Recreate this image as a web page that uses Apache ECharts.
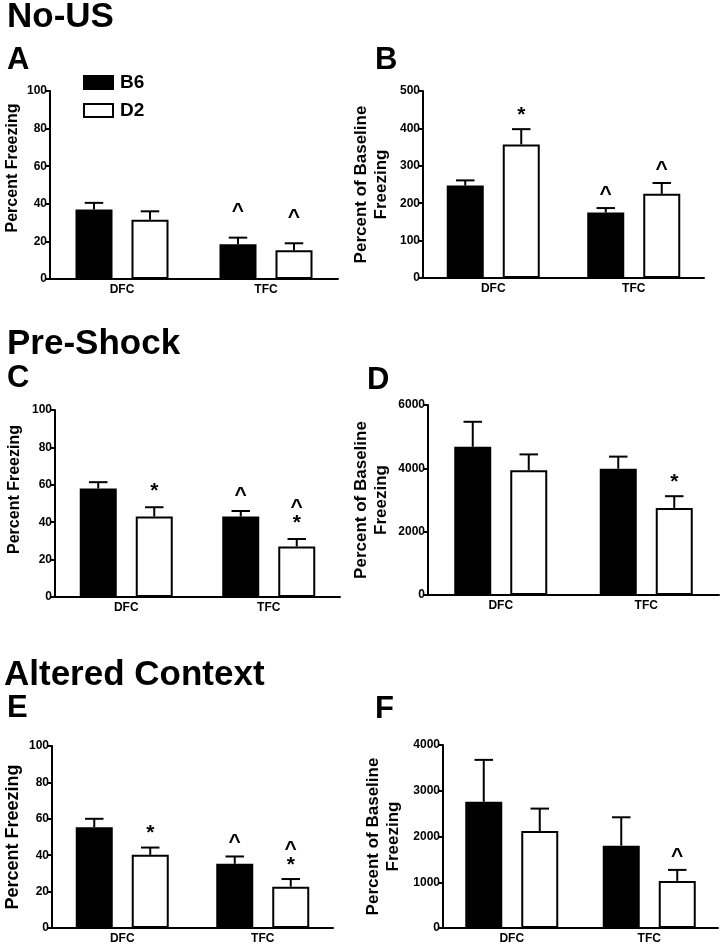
<!DOCTYPE html>
<html><head><meta charset="utf-8">
<script src="https://cdn.jsdelivr.net/npm/echarts@6/dist/echarts.min.js"></script>
<style>html,body{margin:0;padding:0;background:#fff}#c{width:722px;height:951px}</style>
</head><body><div id="c"></div>
<script>
const categories = ['DFC', 'TFC'];
const seriesNames = ['B6', 'D2'];

// Panel A (No-US, Percent Freezing)
const A_B6 = [37, 18.5];      const A_B6_sem = [3.5, 3.5];   const A_B6_sig = ['', '^'];
const A_D2 = [31.5, 15.3];    const A_D2_sem = [4.5, 3.7];   const A_D2_sig = ['', '^'];
// Panel B (No-US, Percent of Baseline)
const B_B6 = [247, 175];      const B_B6_sem = [14, 12];     const B_B6_sig = ['', '^'];
const B_D2 = [357, 225];      const B_D2_sem = [41, 29];     const B_D2_sig = ['*', '^'];
// Panel C (Pre-Shock, Percent Freezing)
const C_B6 = [58, 43];        const C_B6_sem = [3.4, 3];     const C_B6_sig = ['', '^'];
const C_D2 = [43, 27];        const C_D2_sem = [5, 4];       const C_D2_sig = ['*', '^\n*'];
// Panel D (Pre-Shock, Percent of Baseline)
const D_B6 = [4680, 3990];    const D_B6_sem = [790, 380];   const D_B6_sig = ['', ''];
const D_D2 = [3940, 2750];    const D_D2_sem = [500, 370];   const D_D2_sig = ['', '*'];
// Panel E (Altered Context, Percent Freezing)
const E_B6 = [55.4, 35.3];    const E_B6_sem = [4.6, 4];     const E_B6_sig = ['', '^'];
const E_D2 = [40.2, 22.7];    const E_D2_sem = [4, 4.2];     const E_D2_sig = ['*', '^\n*'];
// Panel F (Altered Context, Percent of Baseline)
const F_B6 = [2760, 1800];    const F_B6_sem = [915, 620];   const F_B6_sig = ['', ''];
const F_D2 = [2120, 1030];    const F_D2_sem = [490, 240];   const F_D2_sig = ['', '^'];

// y-axis tick settings
const yMaxPct = 100, yIntPct = 20;
const yMaxB = 500, yIntB = 100;
const yMaxD = 6000, yIntD = 2000;
const yMaxF = 4000, yIntF = 1000;

const FONT = '"Liberation Sans", Arial, sans-serif';
const BAR_W = 37;
const GAP = 19;
const OFFSET = (BAR_W + GAP) / 2;

const panels = [
  {b6: A_B6, b6s: A_B6_sem, b6g: A_B6_sig, d2: A_D2, d2s: A_D2_sem, d2g: A_D2_sig, max: yMaxPct, int: yIntPct,
   name: 'Percent Freezing', grid: {left: 50, top: 91, width: 288, height: 188}, nameGap: 26, shift: 34, lift: 12, nameSize: 16},
  {b6: B_B6, b6s: B_B6_sem, b6g: B_B6_sig, d2: B_D2, d2s: B_D2_sem, d2g: B_D2_sig, max: yMaxB, int: yIntB,
   name: 'Percent of Baseline\nFreezing', grid: {left: 423, top: 91, width: 281, height: 187}, nameGap: 32, shift: 0, lift: 0, nameSize: 17},
  {b6: C_B6, b6s: C_B6_sem, b6g: C_B6_sig, d2: C_D2, d2s: C_D2_sem, d2g: C_D2_sig, max: yMaxPct, int: yIntPct,
   name: 'Percent Freezing', grid: {left: 55, top: 410, width: 285, height: 187}, nameGap: 30, shift: 28, lift: 2, nameSize: 16},
  {b6: D_B6, b6s: D_B6_sem, b6g: D_B6_sig, d2: D_D2, d2s: D_D2_sem, d2g: D_D2_sig, max: yMaxD, int: yIntD,
   name: 'Percent of Baseline\nFreezing', grid: {left: 428, top: 405, width: 291, height: 190}, nameGap: 37, shift: 0, lift: 0, nameSize: 17},
  {b6: E_B6, b6s: E_B6_sem, b6g: E_B6_sig, d2: E_D2, d2s: E_D2_sem, d2g: E_D2_sig, max: yMaxPct, int: yIntPct,
   name: 'Percent Freezing', grid: {left: 52, top: 746, width: 281, height: 182}, nameGap: 29, shift: 0, lift: 0, nameSize: 18},
  {b6: F_B6, b6s: F_B6_sem, b6g: F_B6_sig, d2: F_D2, d2s: F_D2_sem, d2g: F_D2_sig, max: yMaxF, int: yIntF,
   name: 'Percent of Baseline\nFreezing', grid: {left: 443, top: 745, width: 275, height: 183}, nameGap: 40, shift: 0, lift: 0, nameSize: 17}
];

function errRender(sign, marks, lift) {
  return function (params, api) {
    const i = api.value(0), v = api.value(1), e = api.value(2);
    const base = api.coord([i, v]);
    const top = api.coord([i, v + e]);
    const x = base[0] + sign * OFFSET;
    const cap = BAR_W / 4;
    const children = [
      {type: 'line', shape: {x1: x, y1: base[1], x2: x, y2: top[1]}, style: {stroke: '#000', lineWidth: 2}},
      {type: 'line', shape: {x1: x - cap, y1: top[1], x2: x + cap, y2: top[1]}, style: {stroke: '#000', lineWidth: 2}}
    ];
    const m = marks[params.dataIndex];
    if (m) {
      children.push({type: 'text', x: x, y: top[1] - 6 - lift,
        style: {text: m, align: 'center', verticalAlign: 'bottom', font: 'bold 21px ' + FONT, fill: '#000', lineHeight: 16}});
    }
    return {type: 'group', children: children};
  };
}

const grids = [], xAxes = [], yAxes = [], series = [];
panels.forEach((p, k) => {
  grids.push(Object.assign({containLabel: false, outerBoundsMode: 'none'}, p.grid));
  xAxes.push({
    type: 'category', gridIndex: k, data: categories,
    axisLine: {lineStyle: {color: '#000', width: 2}},
    axisTick: {alignWithLabel: true, length: 4, lineStyle: {color: '#000', width: 2}},
    axisLabel: {color: '#000', fontFamily: FONT, fontWeight: 'bold', fontSize: 12, margin: 5}
  });
  yAxes.push({
    type: 'value', gridIndex: k, min: 0, max: p.max, interval: p.int,
    name: p.name, nameLocation: 'middle', nameGap: p.nameGap, nameRotate: 90,
    nameTextStyle: {color: '#000', fontFamily: FONT, fontWeight: 'bold', fontSize: p.nameSize, lineHeight: 20,
                    padding: [0, 0, 0, p.shift]},
    axisLine: {show: true, lineStyle: {color: '#000', width: 2}},
    axisTick: {show: true, length: 4, lineStyle: {color: '#000', width: 2}},
    splitLine: {show: false},
    axisLabel: {color: '#000', fontFamily: FONT, fontWeight: 'bold', fontSize: 12, margin: 3,
                formatter: v => String(v)}
  });
  series.push({
    name: 'B6', type: 'bar', xAxisIndex: k, yAxisIndex: k, data: p.b6,
    barWidth: BAR_W, barGap: (GAP / BAR_W * 100) + '%',
    itemStyle: {color: '#000', borderColor: '#000', borderWidth: 2}
  });
  series.push({
    name: 'D2', type: 'bar', xAxisIndex: k, yAxisIndex: k, data: p.d2,
    barWidth: BAR_W, barGap: (GAP / BAR_W * 100) + '%',
    itemStyle: {color: '#fff', borderColor: '#000', borderWidth: 2}
  });
  series.push({
    name: 'errB6', type: 'custom', xAxisIndex: k, yAxisIndex: k, z: 5,
    data: p.b6.map((v, i) => [i, v, p.b6s[i]]),
    renderItem: errRender(-1, p.b6g, p.lift)
  });
  series.push({
    name: 'errD2', type: 'custom', xAxisIndex: k, yAxisIndex: k, z: 5,
    data: p.d2.map((v, i) => [i, v, p.d2s[i]]),
    renderItem: errRender(1, p.d2g, p.lift)
  });
});

function label(text, x, y, size) {
  return {type: 'text', x: x, y: y, style: {text: text, font: 'bold ' + size + 'px ' + FONT, fill: '#000', verticalAlign: 'middle', align: 'left'}};
}

const chart = echarts.init(document.getElementById('c'), null, {renderer: 'canvas'});
chart.setOption({
  animation: false,
  backgroundColor: '#fff',
  grid: grids, xAxis: xAxes, yAxis: yAxes, series: series,
  legend: {
    data: [{name: seriesNames[0], icon: 'rect'}, {name: seriesNames[1], icon: 'rect'}],
    orient: 'vertical', left: 83, top: 73, padding: 0,
    itemWidth: 29, itemHeight: 13, itemGap: 9,
    textStyle: {color: '#000', fontFamily: FONT, fontWeight: 'bold', fontSize: 19, padding: [0, 0, 0, 2]},
    selectedMode: false
  },
  graphic: [
    label('No-US', 7, 17, 35),
    label('A', 7, 60, 31),
    label('B', 375, 60, 31),
    label('Pre-Shock', 7, 344, 35),
    label('C', 7, 378, 31),
    label('D', 367, 380, 31),
    label('Altered Context', 4, 675, 35),
    label('E', 7, 708, 31),
    label('F', 375, 709, 31)
  ]
});
</script>
</body></html>
